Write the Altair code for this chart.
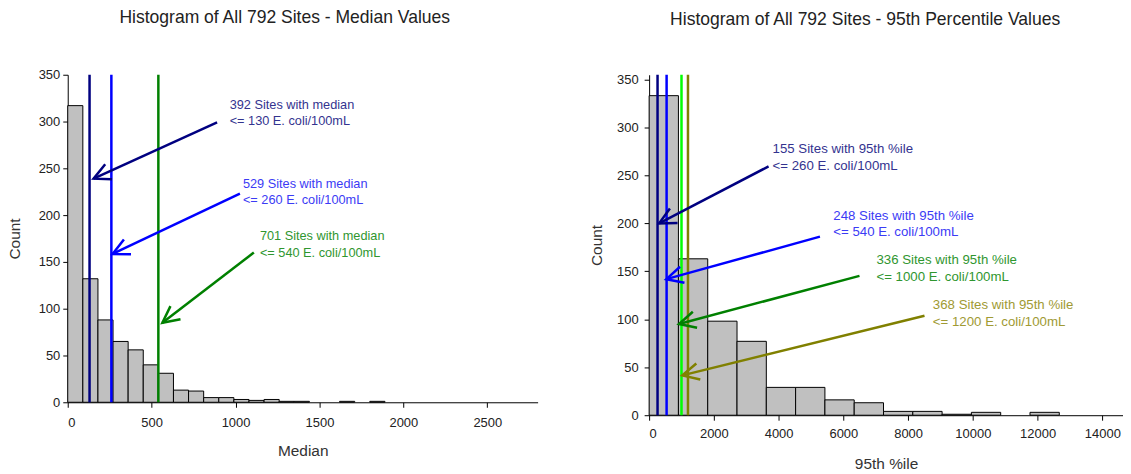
import math
import altair as alt
import pandas as pd

FONT = "Liberation Sans"

# ---------------- Left panel: median values ----------------
med_bin_start = [0, 90, 180, 270, 360, 450, 540, 630, 720, 810, 900, 990, 1080, 1170, 1260, 1350, 1620, 1800]
med_bin_end = [90, 180, 270, 360, 450, 540, 630, 720, 810, 900, 990, 1080, 1170, 1260, 1350, 1440, 1710, 1890]
med_counts = [317, 132, 88, 65, 56, 40, 31, 13, 12, 5, 5, 3, 2, 3, 1, 1, 1, 1]

med_line_values = [130, 260, 540]
med_line_colors = ["#000080", "#0000ff", "#008000"]
med_arrow_colors = ["#000080", "#0000ff", "#008000"]
med_text_colors = ["#33338f", "#3b3bf5", "#2f962f"]
med_text_line1 = ["392 Sites with median", "529 Sites with median", "701 Sites with median"]
med_text_line2 = ["<= 130 E. coli/100mL", "<= 260 E. coli/100mL", "<= 540 E. coli/100mL"]
med_text_x = [965, 1044, 1145]
med_text_y1 = [318, 233, 178]
med_text_y2 = [301, 216, 160]
med_arrow_x1 = [890, 1026, 1109]
med_arrow_y1 = [299, 223, 160]
med_arrow_x2 = [154, 267, 564]
med_arrow_y2 = [239, 158.5, 85]
med_xticks = [0, 500, 1000, 1500, 2000, 2500]

# ---------------- Right panel: 95th percentile values ----------------
p95_bin_start = [0, 905, 1810, 2715, 3620, 4525, 5430, 6335, 7240, 8145, 9050, 9955, 11765]
p95_bin_end = [905, 1810, 2715, 3620, 4525, 5430, 6335, 7240, 8145, 9050, 9955, 10860, 12670]
p95_counts = [333, 163, 98, 77, 29, 29, 16, 13, 4, 4, 1, 3, 3]

p95_line_values = [260, 540, 1000, 1200]
p95_line_colors = ["#000080", "#0000ff", "#00ff00", "#808000"]
p95_arrow_colors = ["#000080", "#0000ff", "#008000", "#808000"]
p95_text_colors = ["#33338f", "#3b3bf5", "#2f962f", "#a09a33"]
p95_text_line1 = ["155 Sites with 95th %ile", "248 Sites with 95th %ile",
                  "336 Sites with 95th %ile", "368 Sites with 95th %ile"]
p95_text_line2 = ["<= 260 E. coli/100mL", "<= 540 E. coli/100mL",
                  "<= 1000 E. coli/100mL", "<= 1200 E. coli/100mL"]
p95_text_x = [3813, 5689, 7021, 8765]
p95_text_y1 = [277.4, 207.5, 161.5, 115.1]
p95_text_y2 = [259.3, 190.9, 143.6, 96.9]
p95_arrow_x1 = [3690, 5277, 6498, 8506]
p95_arrow_y1 = [259.3, 186.1, 145.2, 103.7]
p95_arrow_x2 = [307.5, 532, 923, 1024]
p95_arrow_y2 = [199.9, 141.8, 95.1, 41.5]
p95_xticks = [0, 2000, 4000, 6000, 8000, 10000, 12000, 14000]

yticks = [0, 50, 100, 150, 200, 250, 300, 350]

HEAD = "M -1 -0.5 L 0 0 L -1 0.5"


def panel(bin_start, bin_end, counts, line_values, line_colors, arrow_colors,
          text_colors, line1, line2, tx, ty1, ty2, ax1, ay1, ax2, ay2,
          xmax, ymax, width, height, xticks, xtitle, title, title_dx, title_dy,
          title_offset, text_size, y_label_pad, y_title_pad, x_label_pad, x_title_pad):
    xs = alt.Scale(domain=[0, xmax], nice=False, zero=False)
    ys = alt.Scale(domain=[0, ymax], nice=False)
    sx = width / xmax
    sy = height / ymax

    bars_df = pd.DataFrame({"x": bin_start, "x2": bin_end, "y": counts,
                            "y0": [0] * len(counts)})
    bars = alt.Chart(bars_df).mark_rect(fill="#c0c0c0", stroke="black", strokeWidth=1).encode(
        x=alt.X("x:Q", scale=xs,
                axis=alt.Axis(values=xticks, format="d", title=xtitle, grid=False,
                              tickSize=5, labelPadding=x_label_pad, titlePadding=x_title_pad,
                              minExtent=26, maxExtent=26)),
        x2="x2:Q",
        y=alt.Y("y:Q", scale=ys,
                axis=alt.Axis(values=yticks, title="Count", grid=False,
                              tickSize=5, labelPadding=y_label_pad, titlePadding=y_title_pad,
                              minExtent=32, maxExtent=32)),
        y2="y0:Q",
    )

    lines_df = pd.DataFrame({"v": line_values, "c": line_colors})
    vlines = alt.Chart(lines_df).mark_rule(strokeWidth=2.5).encode(
        x=alt.X("v:Q", scale=xs),
        color=alt.Color("c:N", scale=None),
    )

    arr_df = pd.DataFrame({"x1": ax1, "y1": ay1, "x2": ax2, "y2": ay2, "c": arrow_colors})
    arr_df["ang"] = [
        math.degrees(math.atan2(-(b2 - b1) * sy, (a2 - a1) * sx)) % 360
        for a1, b1, a2, b2 in zip(ax1, ay1, ax2, ay2)
    ]
    shafts = alt.Chart(arr_df).mark_rule(strokeWidth=2.5).encode(
        x=alt.X("x1:Q", scale=xs), y=alt.Y("y1:Q", scale=ys),
        x2="x2:Q", y2="y2:Q",
        color=alt.Color("c:N", scale=None),
    )
    heads = alt.Chart(arr_df).mark_point(shape=HEAD, filled=False, size=1100,
                                         strokeWidth=2.5, opacity=1).encode(
        x=alt.X("x2:Q", scale=xs), y=alt.Y("y2:Q", scale=ys),
        angle=alt.Angle("ang:Q", scale=None),
        stroke=alt.Stroke("c:N", scale=None),
    )

    txt_df = pd.DataFrame({
        "x": tx + tx,
        "y": ty1 + ty2,
        "t": line1 + line2,
        "c": text_colors + text_colors,
    })
    texts = alt.Chart(txt_df).mark_text(align="left", baseline="middle", font=FONT,
                                        fontSize=text_size).encode(
        x=alt.X("x:Q", scale=xs), y=alt.Y("y:Q", scale=ys),
        text="t:N",
        color=alt.Color("c:N", scale=None),
    )

    return alt.layer(bars, vlines, shafts, heads, texts).properties(
        width=width, height=height,
        title=alt.TitleParams(title, fontSize=17.6, font=FONT, fontWeight="normal",
                              color="#222222", anchor="middle", dx=title_dx, dy=title_dy,
                              offset=title_offset),
    )


left = panel(med_bin_start, med_bin_end, med_counts, med_line_values, med_line_colors,
             med_arrow_colors, med_text_colors, med_text_line1, med_text_line2,
             med_text_x, med_text_y1, med_text_y2, med_arrow_x1, med_arrow_y1,
             med_arrow_x2, med_arrow_y2, 2800, 350, 472, 329, med_xticks, "Median",
             "Histogram of All 792 Sites - Median Values", -18, 0, 42, 12.8,
             3, 13, 9, 15)

right = panel(p95_bin_start, p95_bin_end, p95_counts, p95_line_values, p95_line_colors,
              p95_arrow_colors, p95_text_colors, p95_text_line1, p95_text_line2,
              p95_text_x, p95_text_y1, p95_text_y2, p95_arrow_x1, p95_arrow_y1,
              p95_arrow_x2, p95_arrow_y2, 14638, 354.8, 476, 342, p95_xticks, "95th %ile",
              "Histogram of All 792 Sites - 95th Percentile Values", -21, -3, 42, 13.3,
              6, 13, 7, 16)

chart = alt.hconcat(left, right, spacing=52).properties(
    padding={"left": 0, "top": 0, "right": 0, "bottom": 0}
).configure_view(stroke=None).configure_axis(
    domainColor="black", tickColor="black", labelColor="#222222", titleColor="#333333",
    labelFont=FONT, titleFont=FONT, labelFontSize=13, titleFontSize=15.5,
    titleFontWeight="normal", domainWidth=1, tickWidth=1,
)

chart.save("out.html", embed_options={"renderer": "svg", "actions": False})
